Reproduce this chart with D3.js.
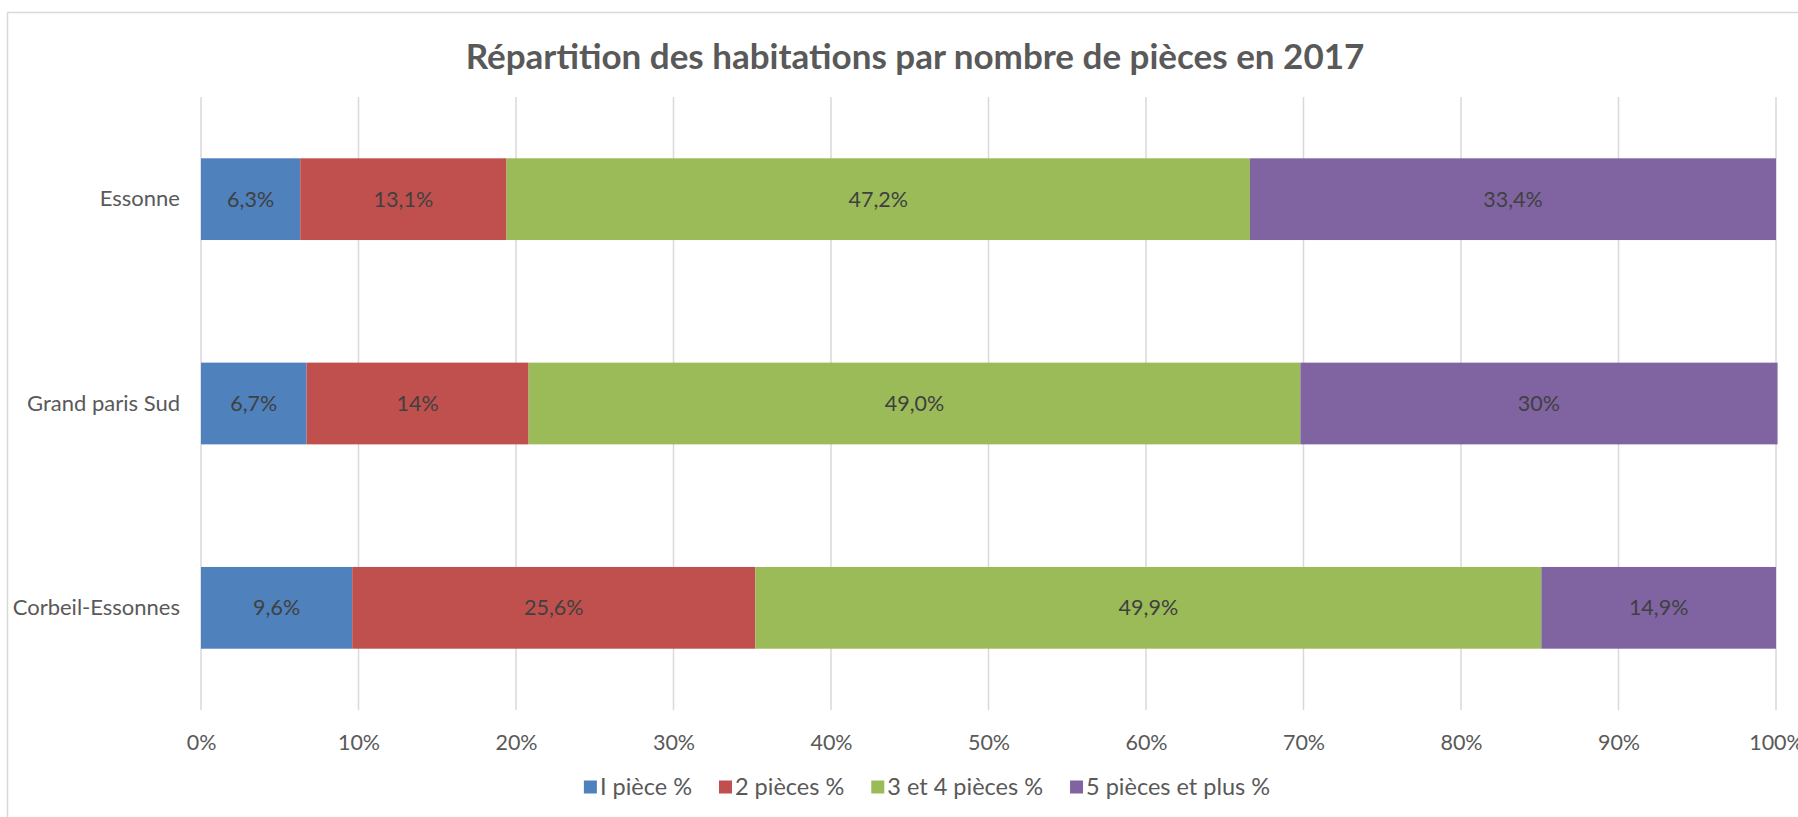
<!DOCTYPE html>
<html>
<head>
<meta charset="utf-8">
<script src="https://cdn.jsdelivr.net/npm/d3@7"></script>
<style>
  html, body { margin: 0; padding: 0; background: #fff; }
  svg { display: block; font-family: Lato, 'Noto Sans', sans-serif; }
</style>
</head>
<body>
<svg id="chart" width="1798" height="817"></svg>
<script>
// data
var categories = ['Essonne', 'Grand paris Sud', 'Corbeil-Essonnes'];
var seriesNames = ['I pièce %', '2 pièces %', '3 et 4 pièces %', '5 pièces et plus %'];
var seriesColors = ['#4F81BD', '#C0504D', '#9BBB59', '#8064A2'];
var onePiece = [6.3, 6.7, 9.6];
var twoPieces = [13.1, 14.1, 25.6];
var threeFourPieces = [47.2, 49.0, 49.9];
var fivePlus = [33.4, 30.3, 14.9];
var valueLabels = [
  ['6,3%', '13,1%', '47,2%', '33,4%'],
  ['6,7%', '14%', '49,0%', '30%'],
  ['9,6%', '25,6%', '49,9%', '14,9%']
];
var xTicks = [0, 10, 20, 30, 40, 50, 60, 70, 80, 90, 100];
var title = 'Répartition des habitations par nombre de pièces en 2017';

var svg = d3.select('#chart');
var margin = { top: 97, left: 201, right: 22, bottom: 107 };
var width = 1798, height = 817;

// chart frame (only left and top edges fall inside the picture)
svg.append('rect')
  .attr('x', 7.5).attr('y', 12.5)
  .attr('width', 1830).attr('height', 830)
  .attr('fill', '#fff')
  .attr('stroke', '#D9D9D9')
  .attr('stroke-width', 1.5);

var xScale = d3.scaleLinear()
  .domain([0, 100])
  .range([margin.left, width - margin.right]);

var yScale = d3.scaleBand()
  .domain(categories)
  .range([margin.top, height - margin.bottom])
  .paddingInner(0.6)
  .paddingOuter(0.3);

// title
svg.append('text')
  .attr('x', 915).attr('y', 69)
  .attr('text-anchor', 'middle')
  .attr('font-weight', 'bold')
  .attr('font-size', 35)
  .attr('fill', '#595959')
  .text(title);

// gridlines
svg.append('g')
  .selectAll('line')
  .data(xTicks)
  .enter()
  .append('line')
  .attr('x1', d => xScale(d)).attr('x2', d => xScale(d))
  .attr('y1', margin.top).attr('y2', height - margin.bottom)
  .attr('stroke', '#D9D9D9')
  .attr('stroke-width', 1.5);

// x axis labels
var xAxis = d3.axisBottom(xScale)
  .tickValues(xTicks)
  .tickFormat(d => d + '%')
  .tickSize(0)
  .tickPadding(0);
var xg = svg.append('g')
  .attr('transform', `translate(0,${height - margin.bottom})`)
  .call(xAxis);
xg.select('.domain').remove();
xg.selectAll('text')
  .attr('y', 32)
  .attr('dy', '0.35em')
  .attr('font-family', 'Lato, sans-serif')
  .attr('font-size', 21.5)
  .attr('fill', '#595959');

// category labels
var yAxis = d3.axisLeft(yScale).tickSize(0).tickPadding(21);
var yg = svg.append('g')
  .attr('transform', `translate(${margin.left},0)`)
  .call(yAxis);
yg.select('.domain').remove();
yg.selectAll('text')
  .attr('font-family', 'Lato, sans-serif')
  .attr('font-size', 22)
  .attr('fill', '#595959');

// stacked bars
var rows = categories.map((c, i) => ({
  category: c,
  s0: onePiece[i], s1: twoPieces[i], s2: threeFourPieces[i], s3: fivePlus[i]
}));
var stack = d3.stack().keys(['s0', 's1', 's2', 's3']);
var layers = stack(rows);

var layerG = svg.append('g')
  .selectAll('g')
  .data(layers)
  .enter()
  .append('g')
  .attr('fill', (d, i) => seriesColors[i]);

layerG.selectAll('rect')
  .data(d => d)
  .enter()
  .append('rect')
  .attr('x', d => xScale(d[0]))
  .attr('width', d => xScale(d[1]) - xScale(d[0]))
  .attr('y', d => yScale(d.data.category))
  .attr('height', yScale.bandwidth());

// data labels
layerG.each(function (layer, li) {
  d3.select(this).selectAll('text')
    .data(layer)
    .enter()
    .append('text')
    .attr('x', d => (xScale(d[0]) + xScale(d[1])) / 2)
    .attr('y', d => yScale(d.data.category) + yScale.bandwidth() / 2)
    .attr('dy', '0.35em')
    .attr('text-anchor', 'middle')
    .attr('font-size', 21.5)
    .attr('fill', '#404040')
    .text((d, ci) => valueLabels[ci][li]);
});

// legend
var legend = svg.append('g');
var lx = 0;
var items = legend.selectAll('g')
  .data(seriesNames)
  .enter()
  .append('g');
items.append('rect')
  .attr('width', 13).attr('height', 13)
  .attr('y', -6.5)
  .attr('fill', (d, i) => seriesColors[i]);
items.append('text')
  .attr('x', 16)
  .attr('dy', '0.35em')
  .attr('font-size', 23.5)
  .attr('fill', '#595959')
  .text(d => d);
items.each(function () {
  var w = this.getBBox().width;
  d3.select(this).attr('transform', `translate(${lx},0)`);
  lx += w + 27;
});
var legendWidth = lx - 27;
legend.attr('transform', `translate(${927 - legendWidth / 2},787)`);
</script>
</body>
</html>
